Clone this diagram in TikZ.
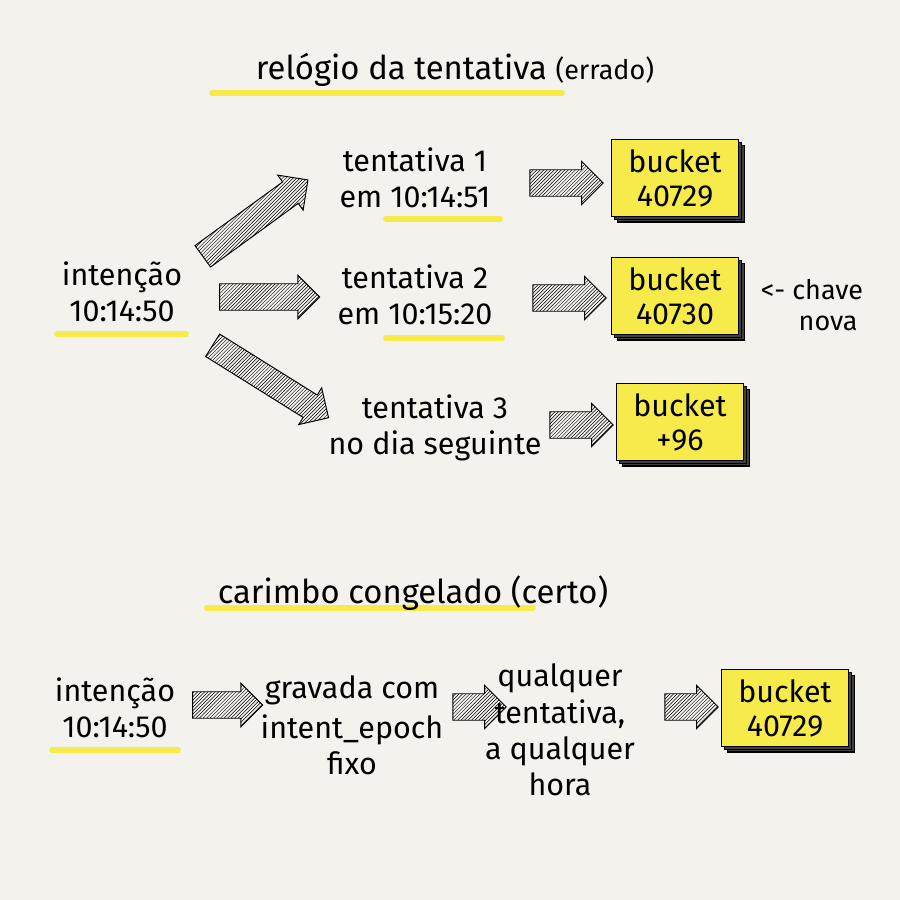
\documentclass[tikz,border=0pt]{standalone}
\usepackage{fontspec}
\setmainfont{Fira Sans}
\usetikzlibrary{shapes.arrows,patterns,shadows}
\definecolor{paper}{HTML}{F4F2EC}
\definecolor{hl}{HTML}{F6EB4A}
\tikzset{
  lbl/.style={align=center,font=\fontsize{26}{31}\selectfont},
  bucket/.style={draw,very thick,fill=hl,minimum width=3.8cm,minimum height=2.3cm,align=center,
    font=\fontsize{26}{29}\selectfont,
    double copy shadow={shadow xshift=2.5pt,shadow yshift=-2.5pt,fill=black!75,draw=black}},
  blk/.style={single arrow,draw,thick,pattern=north east lines,minimum height=#1,
    minimum width=1.3cm,single arrow head extend=0.2cm,inner xsep=0pt,inner ysep=0.3cm},
  hlline/.style={line width=5pt,hl,line cap=round}
}
\begin{document}
\begin{tikzpicture}[x=0.03cm,y=-0.03cm]
\fill[paper] (0,0) rectangle (900,900);
% errado
\draw[hlline] (212,93) -- (562,93);
\node[lbl,font=\fontsize{28}{32}\selectfont] (t1) at (455,70) {relógio da tentativa \fontsize{23}{26}\selectfont(errado)};
\draw[hlline] (57,334) -- (186,334);
\node[lbl] (i1) at (122,292) {intenção\\10:14:50};
\draw[hlline] (386,219) -- (500,219);
\node[lbl] (a1) at (415,178) {tentativa 1\\em 10:14:51};
\draw[hlline] (386,338) -- (502,338);
\node[lbl] (a2) at (415,295) {tentativa 2\\em 10:15:20};
\node[lbl] (a3) at (435,428) {tentativa 3\\no dia seguinte};
\node[bucket] (b1) at (675,178) {bucket\\40729};
\node[bucket] (b2) at (675,296) {bucket\\40730};
\node[bucket] (b3) at (680,422) {bucket\\+96};
\node[lbl,font=\fontsize{23}{27}\selectfont] (cn) at (812,305) {<- chave\\\hspace*{1.2em}nova};
\node[blk=3.9cm,rotate=36] (p1) at (250,222) {};
\node[blk=3.0cm] (p2) at (263,297) {};
\node[blk=4.1cm,rotate=-32] (p3) at (265,378) {};
\node[blk=2.2cm] (q1) at (560,183) {};
\node[blk=2.2cm] (q2) at (563,298) {};
\node[blk=1.9cm] (q3) at (575,425) {};
% certo
\draw[hlline] (207,608) -- (533,608);
\node[lbl,font=\fontsize{28}{32}\selectfont] (t2) at (413,593) {carimbo congelado (certo)};
\draw[hlline] (52,750) -- (178,750);
\node[lbl] (i2) at (115,708) {intenção\\10:14:50};
\node[blk=2.1cm] (r1) at (221,705) {};
\node[lbl] (g) at (352,725) {gravada com\\[3pt]intent\_epoch\\fixo};
\node[blk=1.6cm] (r2) at (473,707) {};
\node[lbl] (qq) at (560,730) {qualquer\\tentativa,\\a qualquer\\hora};
\node[blk=1.6cm] (r3) at (685,707) {};
\node[bucket] (b4) at (785,708) {bucket\\40729};
\end{tikzpicture}
\end{document}
